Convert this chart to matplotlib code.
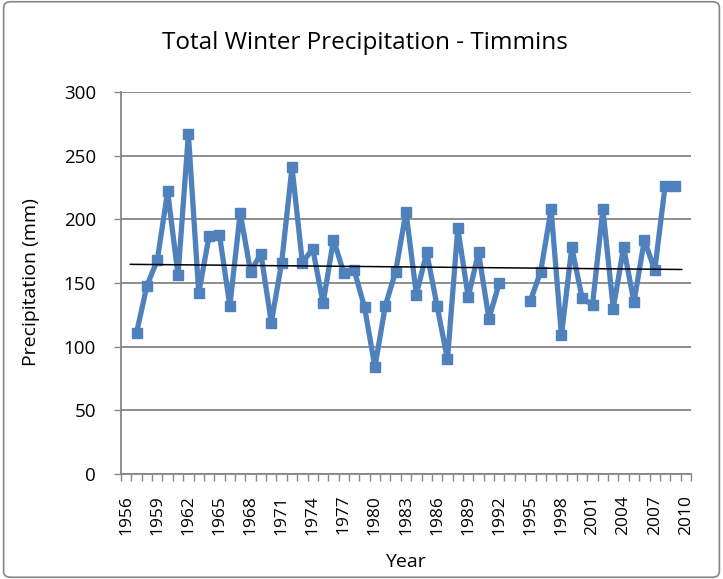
import numpy as np
import matplotlib.pyplot as plt
from matplotlib.patches import FancyBboxPatch

years = np.arange(1957, 2010)
precip = [111, 148, 168, 222, 156, 267, 142, 187, 188, 132,
          205, 159, 173, 119, 166, 241, 166, 177, 134, 184,
          158, 160, 131, 84, 132, 159, 206, 141, 174, 132,
          90, 193, 139, 174, 122, 150, np.nan, np.nan, 136, 159,
          208, 109, 178, 138, 133, 208, 130, 178, 135, 184,
          160, 226, 226]
tick_years = np.arange(1956, 2011, 3)

plt.rcParams['font.family'] = ['Open Sans', 'DejaVu Sans']

fig = plt.figure(figsize=(7.23, 5.79), dpi=100)
ax = fig.add_axes([0.1674, 0.1813, 0.7883, 0.6597])

y = np.array(precip, dtype=float)
ax.plot(years, y, color='#4F81BD', linewidth=3.8, marker='s', markersize=6.5,
        solid_joinstyle='round')

# linear trend
ok = ~np.isnan(y)
slope, icpt = np.polyfit(years[ok], y[ok], 1)
tx = np.array([1956.4, 2009.6])
ax.plot(tx, slope * tx + icpt, color='black', linewidth=1.1)

ax.set_xlim(1955.5, 2010.5)
ax.set_ylim(0, 300)
ax.set_yticks(np.arange(0, 301, 50))
ax.set_xticks(tick_years)
ax.set_xticklabels([str(t) for t in tick_years], rotation=90, fontsize=12.5)
ax.set_xticks(np.arange(1955.5, 2011, 1), minor=True)
ax.tick_params(axis='x', which='major', length=0, pad=15)
ax.tick_params(axis='x', which='minor', length=5, color='#868686', width=1)
ax.tick_params(axis='y', length=5, color='#868686', width=1, labelsize=13.5, pad=13)
ax.grid(axis='y', color='#868686', linewidth=1.3)
ax.set_axisbelow(True)
for s in ['top', 'right']:
    ax.spines[s].set_visible(False)
for s in ['left', 'bottom']:
    ax.spines[s].set_color('#868686')
    ax.spines[s].set_linewidth(1.3)

fig.text(405 / 723, 1 - 562 / 579, 'Year', ha='center', va='center', fontsize=14)
fig.text(31 / 723, 1 - 282 / 579, 'Precipitation (mm)', ha='center', va='center',
         rotation=90, fontsize=14)
fig.text(365 / 723, 1 - 43 / 579, 'Total Winter Precipitation - Timmins', ha='center',
         va='center', fontsize=17.5)

fig.patches.append(FancyBboxPatch((0.005, 0.003), 0.99, 0.994,
                                  boxstyle='round,pad=0,rounding_size=0.01',
                                  transform=fig.transFigure, fill=False,
                                  edgecolor='#868686', linewidth=1.2))

fig.savefig('out.png', dpi=100)
